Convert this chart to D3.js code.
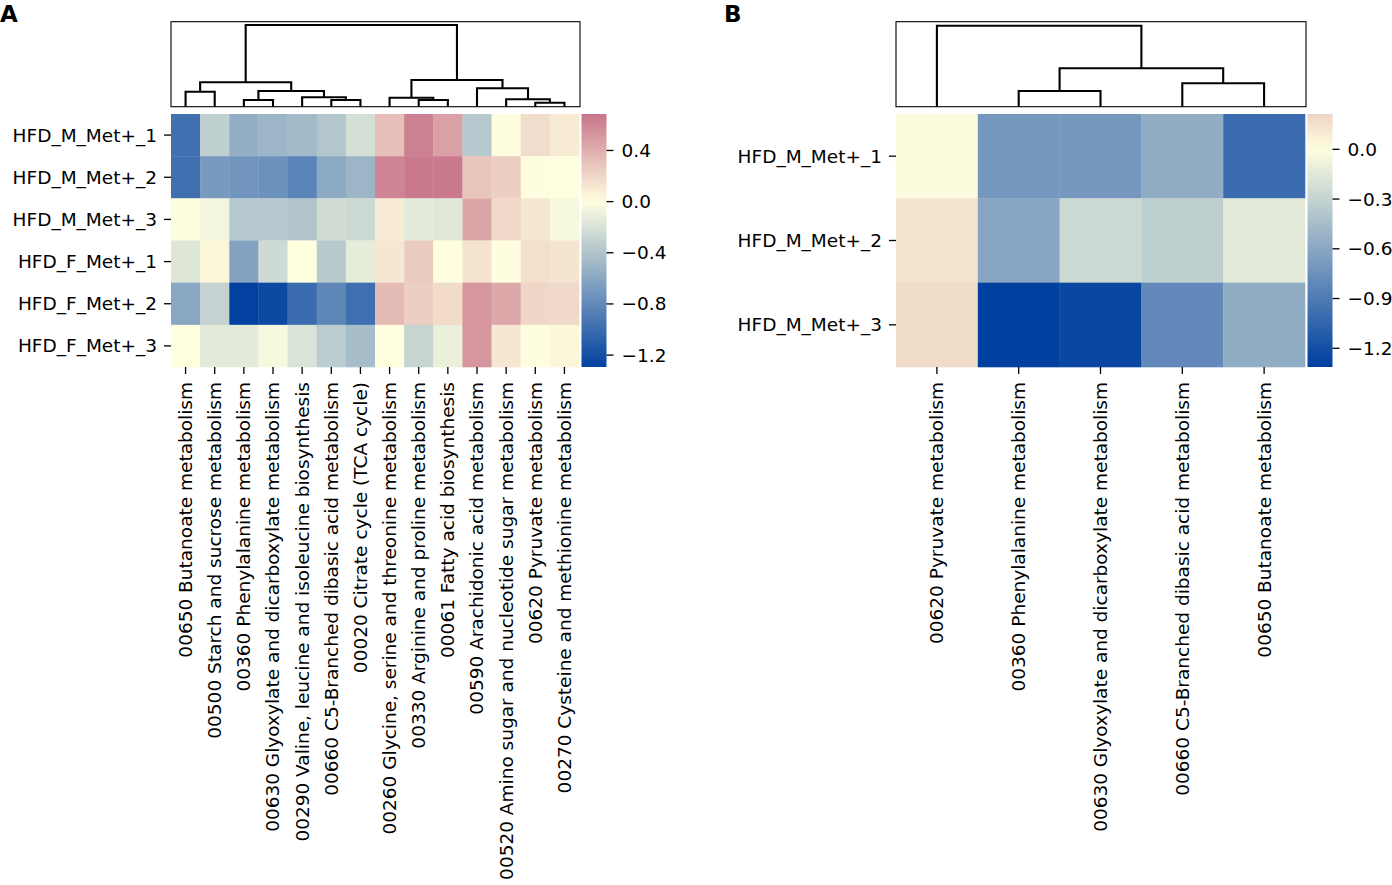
<!DOCTYPE html>
<html lang="en">
<head>
  <meta charset="utf-8">
  <script src="https://d3js.org/d3.v7.min.js"></script>
  <style>
    body { margin: 0; background: #fff; }
    text { font-family: "DejaVu Sans", sans-serif; fill: #000; }
  </style>
</head>
<body>
  <svg id="chart" width="1392" height="885"></svg>
  <script>
    // ---- data ----
    const rowsA = ["HFD_M_Met+_1", "HFD_M_Met+_2", "HFD_M_Met+_3", "HFD_F_Met+_1", "HFD_F_Met+_2", "HFD_F_Met+_3"];
    const colsA = [
      "00650 Butanoate metabolism",
      "00500 Starch and sucrose metabolism",
      "00360 Phenylalanine metabolism",
      "00630 Glyoxylate and dicarboxylate metabolism",
      "00290 Valine, leucine and isoleucine biosynthesis",
      "00660 C5-Branched dibasic acid metabolism",
      "00020 Citrate cycle (TCA cycle)",
      "00260 Glycine, serine and threonine metabolism",
      "00330 Arginine and proline metabolism",
      "00061 Fatty acid biosynthesis",
      "00590 Arachidonic acid metabolism",
      "00520 Amino sugar and nucleotide sugar metabolism",
      "00620 Pyruvate metabolism",
      "00270 Cysteine and methionine metabolism"
    ];
    const valuesA = [
      [-0.97, -0.32, -0.55, -0.50, -0.47, -0.39, -0.22, 0.32, 0.63, 0.47, -0.37, 0.01, 0.17, 0.10],
      [-0.97, -0.69, -0.73, -0.75, -0.84, -0.58, -0.50, 0.61, 0.67, 0.67, 0.29, 0.24, 0.01, 0.00],
      [-0.01, -0.06, -0.37, -0.37, -0.40, -0.24, -0.26, 0.10, -0.14, -0.16, 0.44, 0.19, 0.12, -0.04],
      [-0.17, 0.05, -0.63, -0.25, 0.00, -0.36, -0.13, 0.12, 0.26, 0.00, 0.13, 0.01, 0.16, 0.13],
      [-0.60, -0.30, -1.29, -1.24, -1.00, -0.82, -0.98, 0.34, 0.24, 0.18, 0.52, 0.43, 0.20, 0.19],
      [0.00, -0.14, -0.14, -0.04, -0.19, -0.34, -0.45, 0.00, -0.29, -0.10, 0.52, 0.12, 0.01, 0.04]
    ];
    // linkage: [left, right, height]; leaves are 0..n-1, merges numbered from n
    const mergesA = [
      [0, 1, 1.50], [2, 3, 0.67], [5, 6, 0.67], [4, 16, 0.94], [15, 17, 1.57],
      [14, 18, 2.44], [8, 9, 0.67], [7, 20, 0.90], [12, 13, 0.40], [11, 22, 0.74],
      [10, 23, 1.84], [21, 24, 2.67], [19, 25, 8.17]
    ];
    const ticksA = [0.4, 0.0, -0.4, -0.8, -1.2];
    const rangeA = [-1.293, 0.685];

    const rowsB = ["HFD_M_Met+_1", "HFD_M_Met+_2", "HFD_M_Met+_3"];
    const colsB = [
      "00620 Pyruvate metabolism",
      "00360 Phenylalanine metabolism",
      "00630 Glyoxylate and dicarboxylate metabolism",
      "00660 C5-Branched dibasic acid metabolism",
      "00650 Butanoate metabolism"
    ];
    const valuesB = [
      [0.02, -0.70, -0.70, -0.56, -1.00],
      [0.14, -0.61, -0.26, -0.33, -0.15],
      [0.18, -1.31, -1.25, -0.80, -0.56]
    ];
    const mergesB = [[1, 2, 1.57], [3, 4, 2.34], [5, 6, 3.84], [0, 7, 8.10]];
    const ticksB = [0.0, -0.3, -0.6, -0.9, -1.2];
    const rangeB = [-1.313, 0.213];

    // ---- drawing ----
    const svg = d3.select("#chart");
    svg.append("rect").attr("width", 1392).attr("height", 885).attr("fill", "#fff");

    const color = d3.scaleLinear()
      .domain([-1.3, 0, 0.69])
      .range(["#0040a0", "#ffffe0", "#c87489"])
      .clamp(true);

    const fmt = (v) => d3.format(".1f")(v).replace("-", "\u2212");
    const fs = 18.5;

    function drawPanel(opt) {
      const g = svg.append("g");
      const x = d3.scaleBand().domain(d3.range(opt.cols.length)).range([opt.left, opt.right]);
      const y = d3.scaleBand().domain(d3.range(opt.rows.length)).range([114, 367]);

      // cells
      opt.values.forEach((row, i) => {
        g.append("g").selectAll("rect")
          .data(row)
          .join("rect")
          .attr("x", (d, j) => x(j))
          .attr("y", y(i))
          .attr("width", x.bandwidth() + 0.3)
          .attr("height", y.bandwidth() + 0.3)
          .attr("fill", (d) => color(d));
      });

      // row labels + ticks
      const ry = g.append("g");
      ry.selectAll("line").data(opt.rows).join("line")
        .attr("x1", opt.left - 7).attr("x2", opt.left)
        .attr("y1", (d, i) => y(i) + y.bandwidth() / 2)
        .attr("y2", (d, i) => y(i) + y.bandwidth() / 2)
        .attr("stroke", "#000").attr("stroke-width", 1.3);
      ry.selectAll("text").data(opt.rows).join("text")
        .attr("x", opt.left - 14)
        .attr("y", (d, i) => y(i) + y.bandwidth() / 2)
        .attr("dy", "0.35em")
        .attr("text-anchor", "end")
        .attr("font-size", fs)
        .text((d) => d);

      // column labels + ticks
      const cx = g.append("g");
      cx.selectAll("line").data(opt.cols).join("line")
        .attr("x1", (d, j) => x(j) + x.bandwidth() / 2)
        .attr("x2", (d, j) => x(j) + x.bandwidth() / 2)
        .attr("y1", 367).attr("y2", 374)
        .attr("stroke", "#000").attr("stroke-width", 1.3);
      cx.selectAll("text").data(opt.cols).join("text")
        .attr("transform", (d, j) => "translate(" + (x(j) + x.bandwidth() / 2) + ",382) rotate(-90)")
        .attr("dy", "0.35em")
        .attr("text-anchor", "end")
        .attr("font-size", fs)
        .text((d) => d);

      // dendrogram
      const h = d3.scaleLinear().domain([0, 8.5]).range([106.7, 21.7]);
      const n = opt.cols.length;
      const nodes = d3.range(n).map((j) => ({ x: x(j) + x.bandwidth() / 2, h: 0 }));
      const dg = g.append("g");
      opt.merges.forEach((m) => {
        const a = nodes[m[0]], b = nodes[m[1]];
        nodes.push({ x: (a.x + b.x) / 2, h: m[2] });
        dg.append("path")
          .attr("d", "M" + a.x + "," + h(a.h) + "V" + h(m[2]) + "H" + b.x + "V" + h(b.h))
          .attr("fill", "none")
          .attr("stroke", "#000")
          .attr("stroke-width", 2.1);
      });
      dg.append("rect")
        .attr("x", opt.left).attr("y", 21.7)
        .attr("width", opt.right - opt.left + 1).attr("height", 85)
        .attr("fill", "none").attr("stroke", "#000").attr("stroke-width", 1.1);

      // colorbar
      const cb = opt.right + 2.5, cbw = 25;
      const cs = d3.scaleLinear().domain(opt.range).range([367, 114]);
      const gid = "grad" + opt.id;
      const grad = svg.append("defs").append("linearGradient")
        .attr("id", gid).attr("x1", 0).attr("y1", 1).attr("x2", 0).attr("y2", 0);
      grad.selectAll("stop").data(d3.range(0, 1.0001, 0.05)).join("stop")
        .attr("offset", (t) => t)
        .attr("stop-color", (t) => color(opt.range[0] + t * (opt.range[1] - opt.range[0])));
      g.append("rect")
        .attr("x", cb).attr("y", 114).attr("width", cbw).attr("height", 253)
        .attr("fill", "url(#" + gid + ")");
      const ct = g.append("g");
      ct.selectAll("line").data(opt.ticks).join("line")
        .attr("x1", cb + cbw).attr("x2", cb + cbw + 7)
        .attr("y1", (d) => cs(d)).attr("y2", (d) => cs(d))
        .attr("stroke", "#000").attr("stroke-width", 1.3);
      ct.selectAll("text").data(opt.ticks).join("text")
        .attr("x", cb + cbw + 15)
        .attr("y", (d) => cs(d))
        .attr("dy", "0.35em")
        .attr("font-size", fs)
        .text((d) => fmt(d));

      // panel letter
      svg.append("text")
        .attr("x", opt.letterX).attr("y", 22)
        .attr("font-size", 23).attr("font-weight", "bold")
        .text(opt.letter);
    }

    drawPanel({ id: "A", letter: "A", letterX: 0, left: 171, right: 579,
      rows: rowsA, cols: colsA, values: valuesA, merges: mergesA, ticks: ticksA, range: rangeA });
    drawPanel({ id: "B", letter: "B", letterX: 724, left: 896, right: 1305,
      rows: rowsB, cols: colsB, values: valuesB, merges: mergesB, ticks: ticksB, range: rangeB });
  </script>
</body>
</html>
